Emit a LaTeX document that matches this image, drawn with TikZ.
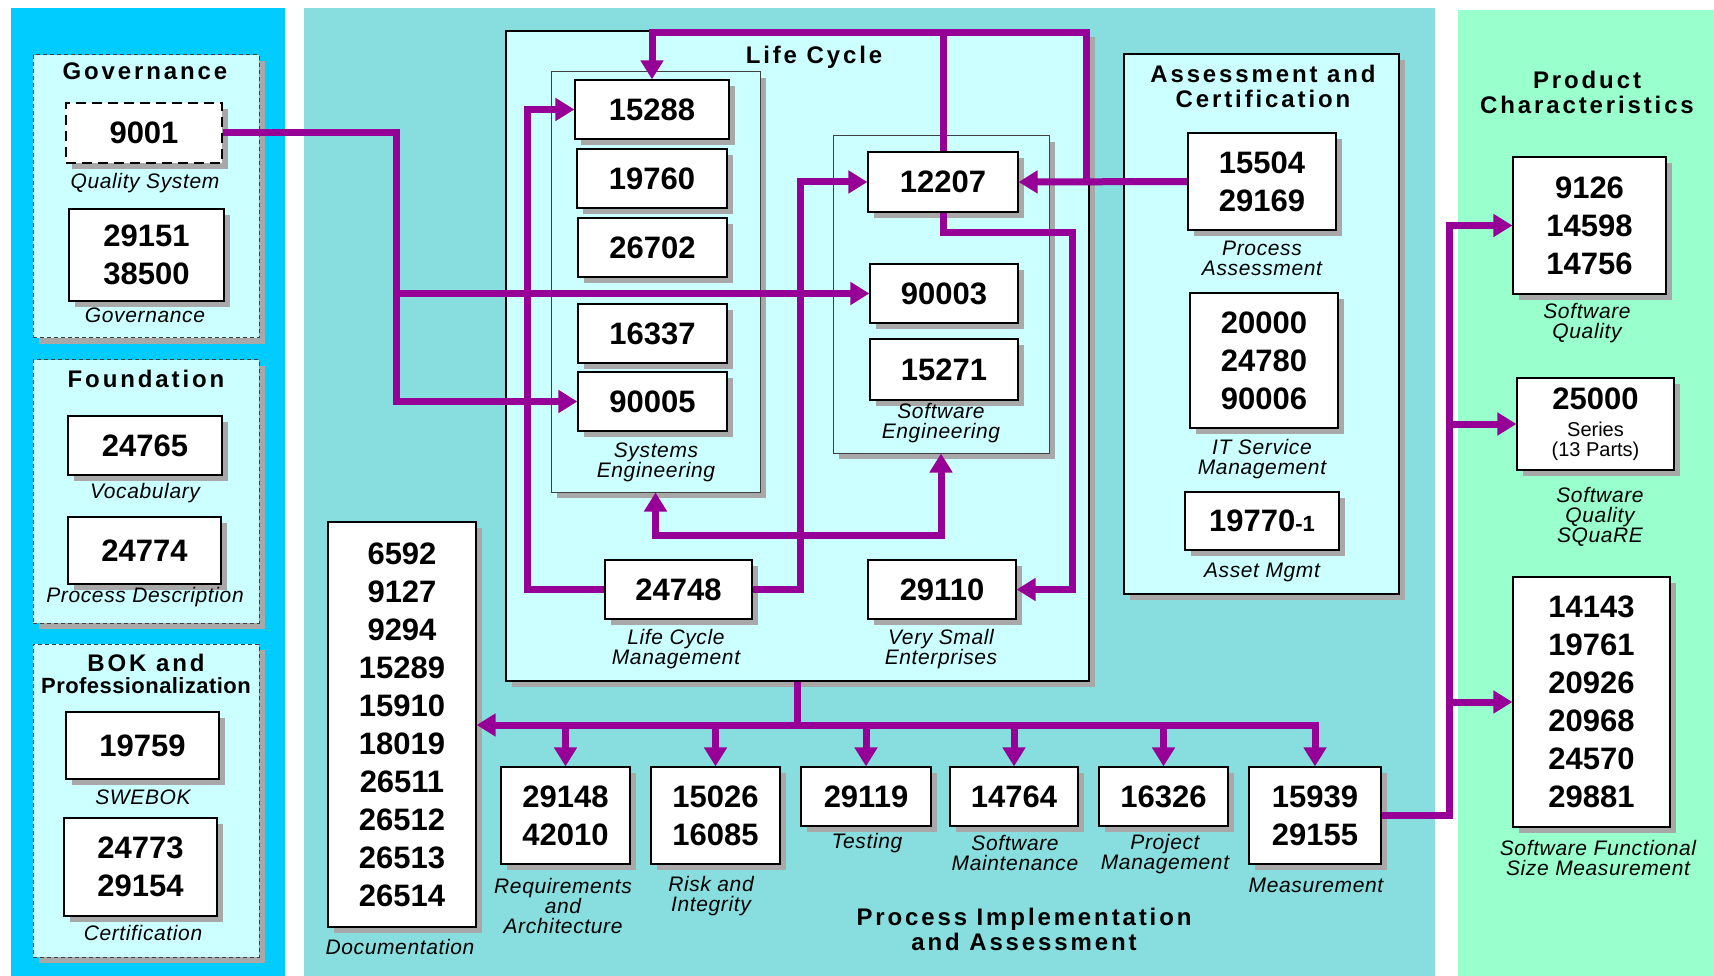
\documentclass[tikz,border=0pt]{standalone}
\usepackage{fontspec}
\setmainfont{Liberation Sans}
\newfontfamily\ttlfont{Liberation Sans}[LetterSpace=12]
\newfontfamily\ttlfontn{Liberation Sans}[LetterSpace=2]
\newfontfamily\labfont{Liberation Sans}[LetterSpace=3]
\usetikzlibrary{arrows.meta,shadows}
\definecolor{panelblue}{RGB}{0,204,255}
\definecolor{panelteal}{RGB}{136,222,222}
\definecolor{panelgreen}{RGB}{153,255,204}
\definecolor{lcyan}{RGB}{204,255,255}
\definecolor{purp}{RGB}{150,0,150}
\definecolor{shadowgray}{RGB}{168,168,168}
\begin{document}
\begin{tikzpicture}[x=1pt,y=-1pt,>={Triangle[length=19pt,width=22pt]},
	dshadow/.style={drop shadow={shadow xshift=6pt,shadow yshift=-6pt,fill=shadowgray,opacity=1}},
	numbox/.style={draw,line width=1.2pt,fill=white,dshadow,inner sep=0pt,align=center,font=\fontsize{31}{38}\selectfont\bfseries},
	grp/.style={draw=black!75,dash pattern=on 4pt off 3pt,line width=1pt,fill=lcyan,dshadow,inner sep=0pt},
	subgrp/.style={draw=black!75,line width=1pt,fill=lcyan,dshadow,inner sep=0pt},
	frame/.style={draw,line width=2.5pt,fill=lcyan,dshadow,inner sep=0pt},
	lab/.style={align=center,inner sep=0pt,font=\labfont\fontsize{21}{20}\selectfont\itshape},
	ttl/.style={align=center,inner sep=0pt,font=\ttlfont\fontsize{24}{25}\selectfont\bfseries},
	link/.style={draw=purp,line width=7pt},
	flow/.style={link,->}]
	\useasboundingbox (0,0) rectangle (1714,976);
	% panels
	\fill[panelblue] (11,8) rectangle (285,976);
	\fill[panelteal] (304,8) rectangle (1435,976);
	\fill[panelgreen] (1458,10) rectangle (1714,976);
	
	% groups
	\node[grp,minimum width=226pt,minimum height=283pt] (gov) at (146,196.5) {};
	\node[grp,minimum width=226pt,minimum height=263pt] (fnd) at (146,491.5) {};
	\node[grp,minimum width=226pt,minimum height=313pt] (bok) at (146,800.5) {};
	\node[frame,minimum width=583pt,minimum height=650pt] (lc) at (797.5,356) {};
	\node[frame,minimum width=275pt,minimum height=540pt] (ac) at (1261.5,324) {};
	\node[subgrp,minimum width=209pt,minimum height=420pt] (sysgrp) at (655.5,282) {};
	\node[subgrp,minimum width=216pt,minimum height=317pt] (swgrp) at (941,294.5) {};
	
	% titles
	\node[ttl] (tgov) at (145,71) {Governance};
	\node[ttl] (tfnd) at (146,379) {Foundation};
	\node[ttl] (tbok) at (146,674) {BOK and\\[-3pt]{\ttlfontn\fontsize{22}{22}\selectfont Professionalization}};
	\node[ttl] (tlc) at (814,57) {Life Cycle};
	\node[ttl] (tac) at (1263,86.5) {Assessment and\\Certification};
	\node[ttl] (tpi) at (1024,929.5) {Process Implementation\\and Assessment};
	\node[ttl] (tpc) at (1587,92.5) {Product\\Characteristics};
	
	% standards
	\node[numbox,dash pattern=on 10pt off 6pt,line width=2.5pt,minimum width=156pt,minimum height=60pt] (n9001) at (144,133) {9001};
	\foreach \n/\x/\y/\w/\h/\t in {
		n29151/146.5/255/155/92/{29151\\38500},
		n24765/145/445.5/154/59/24765,
		n24774/144.5/550.5/153/67/24774,
		n19759/142.5/745.5/153/67/19759,
		n24773/140.5/867/153/98/{24773\\29154},
		n15288/652/109.5/154/59/15288,
		n19760/652/178.5/150/59/19760,
		n26702/652.5/247.5/149/59/26702,
		n16337/652.5/333.5/149/59/16337,
		n90005/652.5/401.5/149/59/90005,
		n12207/943/182/150/60/12207,
		n90003/944/293.5/148/59/90003,
		n15271/944/369.5/148/61/15271,
		n24748/678.5/589.5/147/59/24748,
		n29110/942/589.5/148/59/29110,
		n15504/1262/181.5/148/97/{15504\\29169},
		n20000/1264/360.5/148/135/{20000\\24780\\90006},
		n19770/1262/521/154/58/{19770{\fontsize{22}{22}\selectfont-1}},
		ndoc/402/724.5/148/405/{6592\\9127\\9294\\15289\\15910\\18019\\26511\\26512\\26513\\26514},
		n29148/565.5/815.5/129/97/{29148\\42010},
		n15026/715.5/815.5/129/97/{15026\\16085},
		n29119/866/796.5/130/59/29119,
		n14764/1014/796.5/128/59/14764,
		n16326/1163.5/796.5/129/59/16326,
		n15939/1315/815.5/132/97/{15939\\29155},
		n9126/1589.5/225.5/153/137/{9126\\14598\\14756},
		n25000/1595.5/424/157/92/{25000\\[-11pt]{\fontsize{20}{20}\selectfont\mdseries Series}\\[-18pt]{\fontsize{20}{20}\selectfont\mdseries (13 Parts)}},
		n14143/1591.5/702/157/250/{14143\\19761\\20926\\20968\\24570\\29881}}
	\node[numbox,minimum width=\w pt,minimum height=\h pt] (\n) at (\x,\y) {\t};
	
	% captions
	\foreach \x/\y/\t [count=\i] in {
		145/183/Quality System, 145/315/Governance, 145/493/Vocabulary,
		145/597/Process Description, 143/797/SWEBOK, 143/933/Certification,
		656/462/{Systems\\Engineering}, 941/423/{Software\\Engineering},
		676/649.5/{Life Cycle\\Management}, 941/649.5/{Very Small\\Enterprises},
		1262/258/{Process\\Assessment}, 1262/459/{IT Service\\Management},
		1262/572/Asset Mgmt, 400/947/Documentation,
		563/906/{Requirements\\and\\Architecture}, 711/896/{Risk and\\Integrity},
		867/843/Testing, 1015/853/{Software\\Maintenance},
		1165/854/{Project\\Management}, 1316/885/Measurement,
		1587/323/{Software\\Quality}, 1600/516.5/{Software\\Quality\\SQuaRE},
		1598/857.5/{Software Functional\\Size Measurement}}
	\node[lab] (cap\i) at (\x,\y) {\t};
	
	% connectors
	\coordinate (gbus) at (396,0);
	\coordinate (topR) at (1086,33);
	\coordinate (rgt) at (1072,233);
	\coordinate (lft) at (527,0);
	\coordinate (mid) at (800,0);
	\coordinate (bus) at (798,725);
	\coordinate (pbus) at (1449,0);
	\draw[flow] (n9001.east) -| (gbus |- n90005.west) -- (n90005.west);
	\draw[flow] (gbus |- n90003.west) -- (n90003.west);
	\draw[flow] (n15504.west) -- (n12207.east);
	\draw[flow] (n15504.west -| topR) -- (topR) -| (n15288.north);
	\draw[link] (n12207.north) -- (n12207.north |- topR);
	\draw[flow] (n12207.south) |- (rgt) |- (n29110.east);
	\draw[flow] (n24748.west) -| (lft |- n15288.west) -- (n15288.west);
	\draw[flow] (n24748.east) -| (mid |- n12207.west) -- (n12207.west);
	\draw[link,<->] (sysgrp.south) -- ++(0,43) -| (swgrp.south);
	\draw[link] (lc.south) -- (lc.south |- bus);
	\draw[flow] (bus) -- (ndoc.east |- bus);
	\draw[flow] (bus) -| (n15939.north);
	\foreach \b in {n29148,n15026,n29119,n14764,n16326}
	\draw[flow] (\b.north |- bus) -- (\b.north);
	\draw[flow] (n15939.east) -| (pbus |- n9126.west) -- (n9126.west);
	\foreach \b in {n25000,n14143}
	\draw[flow] (pbus |- \b.west) -- (\b.west);
\end{tikzpicture}
\end{document}
